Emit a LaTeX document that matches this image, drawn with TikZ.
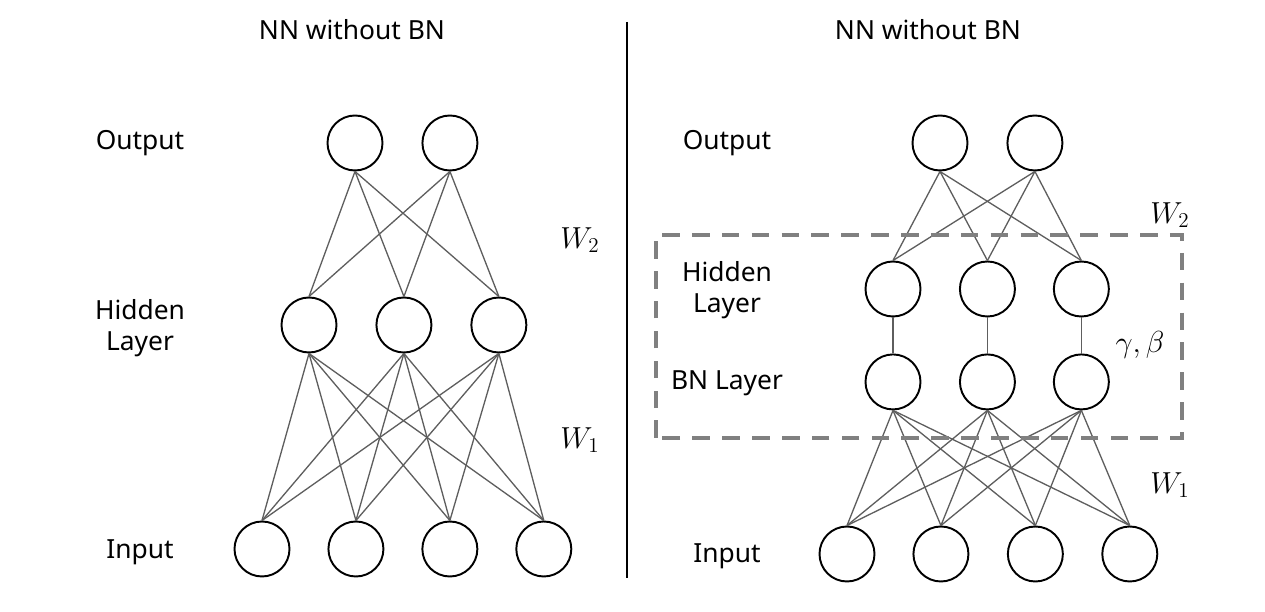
\documentclass[tikz,border=0pt]{standalone}
\usepackage{fontspec}
\setmainfont{Noto Sans}
\usepackage{tikz}
\usetikzlibrary{positioning}
\definecolor{wire}{HTML}{5E5E5E}
\definecolor{box}{HTML}{808080}

\begin{document}
\begin{tikzpicture}[font=\fontsize{15}{18}\selectfont,
  unit/.style={draw,circle,line width=1.1pt,minimum size=1.1cm,inner sep=0pt},
  edge/.style={wire,line width=0.75pt},
  lbl/.style={align=center},
  wlbl/.style={font=\fontsize{17}{20}\selectfont},
  bnbox/.style={box,line width=2.2pt,dash pattern=on 10pt off 7pt}]
\useasboundingbox (0,0) rectangle (25.3,12.24);
% left: plain network
\node[lbl] (ltitle) at (7.04,11.64) {NN without BN};
\node[unit] (lo1) at (7.1,9.38) {};
\node[unit,right=0.76cm of lo1] (lo2) {};
\node[unit] (lh1) at (6.18,5.74) {};
\node[unit,right=0.76cm of lh1] (lh2) {};
\node[unit,right=0.76cm of lh2] (lh3) {};
\node[unit] (li1) at (5.24,1.26) {};
\node[unit,right=0.74cm of li1] (li2) {};
\node[unit,right=0.74cm of li2] (li3) {};
\node[unit,right=0.74cm of li3] (li4) {};
\node[lbl] (lout) at (2.8,9.38) {Output};
\node[lbl] (lhid) at (2.8,5.68) {Hidden\\Layer};
\node[lbl] (lin) at (2.8,1.2) {Input};
\node[wlbl] (lw2) at (11.6,7.44) {$W_2$};
\node[wlbl] (lw1) at (11.6,3.44) {$W_1$};
\foreach \a in {1,2} \foreach \b in {1,2,3} \draw[edge] (lo\a.south) -- (lh\b.north);
\foreach \a in {1,2,3} \foreach \b in {1,2,3,4} \draw[edge] (lh\a.south) -- (li\b.north);
% separator
\coordinate (sepT) at (12.54,11.8);
\coordinate (sepB) at (12.54,0.68);
\draw[line width=1pt] (sepT) -- (sepB);
% right: network with BN
\node[lbl] (rtitle) at (18.56,11.64) {NN without BN};
\node[unit] (ro1) at (18.8,9.38) {};
\node[unit,right=0.76cm of ro1] (ro2) {};
\node[unit] (rh1) at (17.86,6.46) {};
\node[unit,right=0.75cm of rh1] (rh2) {};
\node[unit,right=0.74cm of rh2] (rh3) {};
\node[unit,below=0.72cm of rh1] (rb1) {};
\node[unit,below=0.72cm of rh2] (rb2) {};
\node[unit,below=0.72cm of rh3] (rb3) {};
\node[unit] (ri1) at (16.94,1.16) {};
\node[unit,right=0.74cm of ri1] (ri2) {};
\node[unit,right=0.75cm of ri2] (ri3) {};
\node[unit,right=0.75cm of ri3] (ri4) {};
\node[lbl] (rout) at (14.54,9.38) {Output};
\node[lbl] (rhid) at (14.54,6.44) {Hidden\\Layer};
\node[lbl] (rbn) at (14.54,4.58) {BN Layer};
\node[lbl] (rin) at (14.54,1.12) {Input};
\node[wlbl] (rw2) at (23.4,7.94) {$W_2$};
\node[wlbl] (rgb) at (22.8,5.34) {$\gamma,\beta$};
\node[wlbl] (rw1) at (23.4,2.54) {$W_1$};
\foreach \a in {1,2} \foreach \b in {1,2,3} \draw[edge] (ro\a.south) -- (rh\b.north);
\foreach \a in {1,2,3} \draw[edge] (rh\a) -- (rb\a);
\foreach \a in {1,2,3} \foreach \b in {1,2,3,4} \draw[edge] (rb\a.south) -- (ri\b.north);
\draw[bnbox] (13.12,3.48) rectangle (23.64,7.54);
\end{tikzpicture}
\end{document}
